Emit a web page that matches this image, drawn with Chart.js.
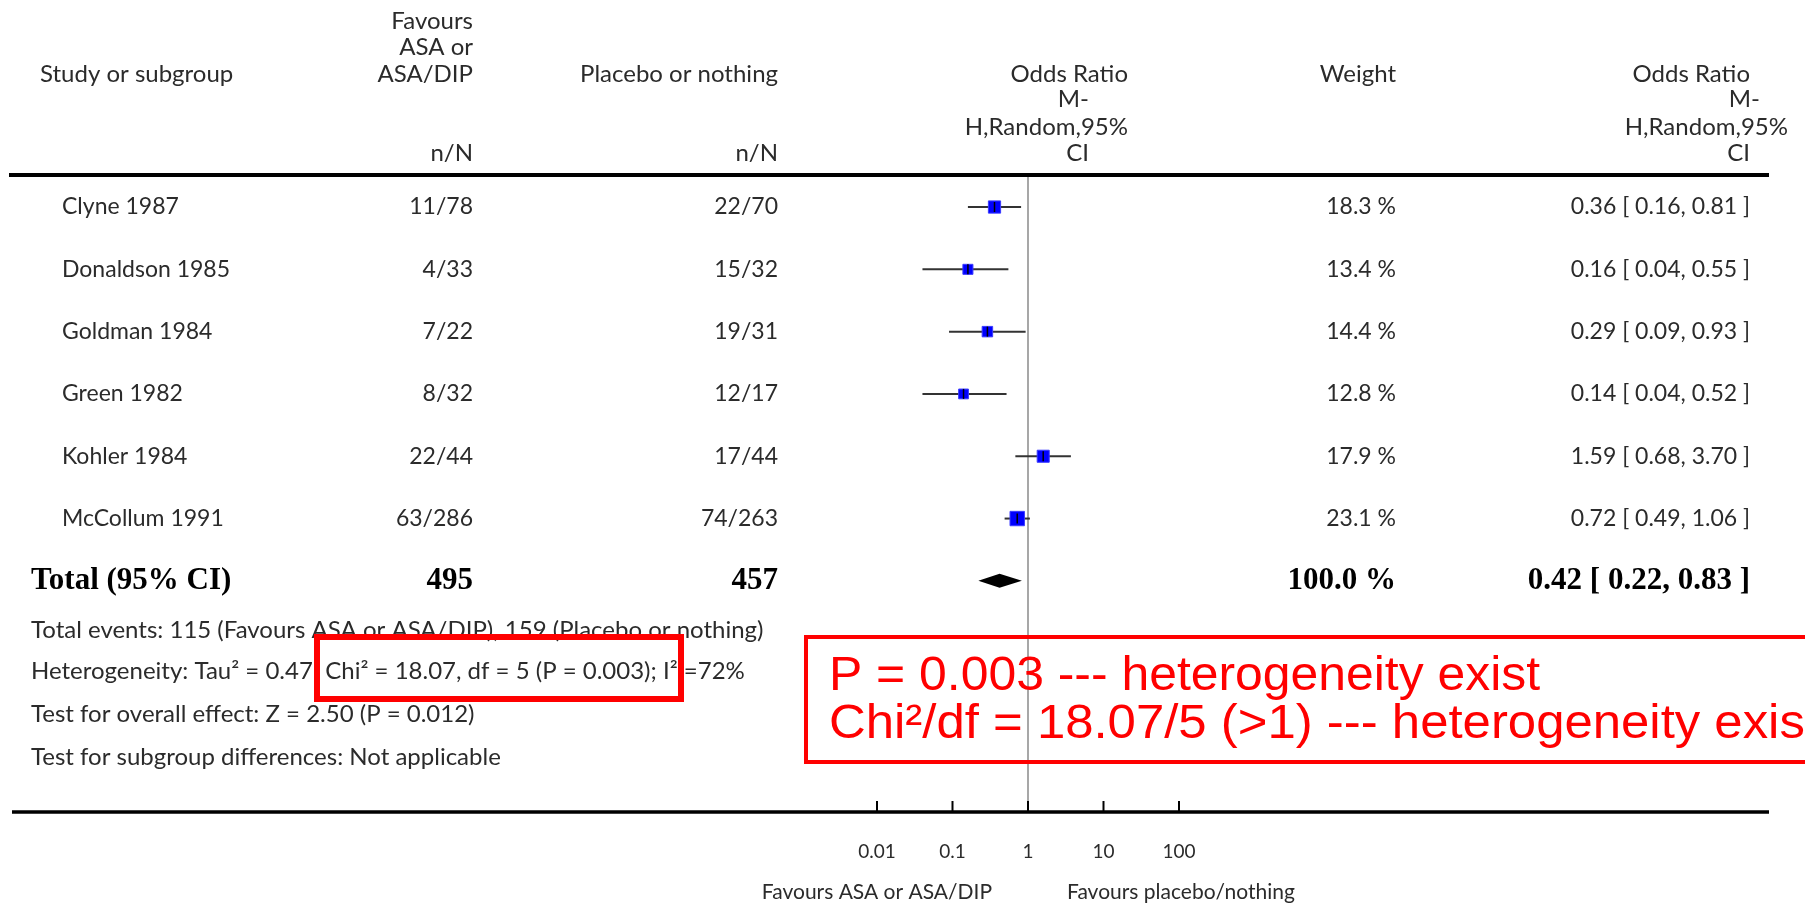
<!DOCTYPE html>
<html lang="en">
<head>
    <meta charset="UTF-8">
    <title>Forest plot</title>
    <style>
        body { margin: 0; background: #fff; }
    </style>
</head>
<body>
    <canvas id="myChart" width="1805" height="906"></canvas>

    <script src="https://cdn.jsdelivr.net/npm/chart.js"></script>

    <script>
        // data
        let studies = ['Clyne 1987', 'Donaldson 1985', 'Goldman 1984', 'Green 1982', 'Kohler 1984', 'McCollum 1991'];
        let treatN = ['11/78', '4/33', '7/22', '8/32', '22/44', '63/286'];
        let controlN = ['22/70', '15/32', '19/31', '12/17', '17/44', '74/263'];
        let weights = [18.3, 13.4, 14.4, 12.8, 17.9, 23.1];
        let oddsRatio = [0.36, 0.16, 0.29, 0.14, 1.59, 0.72];
        let ciLow = [0.16, 0.04, 0.09, 0.04, 0.68, 0.49];
        let ciHigh = [0.81, 0.55, 0.93, 0.52, 3.70, 1.06];

        let totalLabel = 'Total (95% CI)';
        let totalN = ['495', '457'];
        let totalWeight = 100.0;
        let totalOR = [0.42, 0.22, 0.83]; // estimate, low, high

        let xTicks = [0.01, 0.1, 1, 10, 100];
        let xTickLabels = ['0.01', '0.1', '1', '10', '100'];
        let favours = ['Favours ASA or ASA/DIP', 'Favours placebo/nothing'];

        let footer = [
            'Total events: 115 (Favours ASA or ASA/DIP), 159 (Placebo or nothing)',
            'Heterogeneity: Tau\u00b2 = 0.47; Chi\u00b2 = 18.07, df = 5 (P = 0.003); I\u00b2 =72%',
            'Test for overall effect: Z = 2.50 (P = 0.012)',
            'Test for subgroup differences: Not applicable'
        ];
        let notes = [
            'P = 0.003 --- heterogeneity exist',
            'Chi\u00b2/df = 18.07/5 (>1) --- heterogeneity exist'
        ];

        const SANS = 'Lato, "Open Sans", sans-serif';
        const SERIF = '"Liberation Serif", "DejaVu Serif", serif';
        const TXT = '#2b2b2b';

        function fmt(v) { return v.toFixed(2); }
        function ciText(o, l, h) { return fmt(o) + ' [ ' + fmt(l) + ', ' + fmt(h) + ' ]'; }

        function text(ctx, s, x, y, align, font, color) {
            ctx.font = font;
            ctx.textAlign = align;
            ctx.textBaseline = 'middle';
            ctx.fillStyle = color || TXT;
            ctx.fillText(s, x, y);
        }

        const forestPlugin = {
            id: 'forest',
            beforeDatasetsDraw(chart) {
                const ctx = chart.ctx;
                const xs = chart.scales.x, ys = chart.scales.y;
                const area = chart.chartArea;
                ctx.save();
                // line of no effect
                ctx.strokeStyle = '#8a8a8a';
                ctx.lineWidth = 1.5;
                ctx.beginPath();
                ctx.moveTo(xs.getPixelForValue(1), area.top);
                ctx.lineTo(xs.getPixelForValue(1), area.bottom);
                ctx.stroke();
                // confidence intervals
                ctx.strokeStyle = '#333';
                ctx.lineWidth = 2;
                for (let i = 0; i < studies.length; i++) {
                    let y = ys.getPixelForValue(i);
                    ctx.beginPath();
                    ctx.moveTo(xs.getPixelForValue(ciLow[i]), y);
                    ctx.lineTo(xs.getPixelForValue(ciHigh[i]), y);
                    ctx.stroke();
                }
                // pooled diamond
                let yt = ys.getPixelForValue(studies.length);
                ctx.fillStyle = '#000';
                ctx.beginPath();
                ctx.moveTo(xs.getPixelForValue(totalOR[1]), yt);
                ctx.lineTo(xs.getPixelForValue(totalOR[0]), yt - 7);
                ctx.lineTo(xs.getPixelForValue(totalOR[2]), yt);
                ctx.lineTo(xs.getPixelForValue(totalOR[0]), yt + 7);
                ctx.closePath();
                ctx.fill();
                ctx.restore();
            },
            afterDatasetsDraw(chart) {
                const ctx = chart.ctx;
                const xs = chart.scales.x, ys = chart.scales.y;
                ctx.save();
                ctx.strokeStyle = '#000';
                ctx.lineWidth = 1.5;
                for (let i = 0; i < studies.length; i++) {
                    let x = xs.getPixelForValue(oddsRatio[i]);
                    let y = ys.getPixelForValue(i);
                    ctx.beginPath();
                    ctx.moveTo(x, y - 5);
                    ctx.lineTo(x, y + 5);
                    ctx.stroke();
                }
                ctx.restore();
            },
            afterDraw(chart) {
                const ctx = chart.ctx;
                const xs = chart.scales.x, ys = chart.scales.y;
                const area = chart.chartArea;
                ctx.save();

                // header
                const hf = '24px ' + SANS;
                text(ctx, 'Favours', 473, 21, 'right', hf);
                text(ctx, 'ASA or', 473, 47, 'right', hf);
                text(ctx, 'ASA/DIP', 473, 74, 'right', hf);
                text(ctx, 'Study or subgroup', 40, 74, 'left', hf);
                text(ctx, 'Placebo or nothing', 778, 74, 'right', hf);
                text(ctx, 'n/N', 473, 153, 'right', hf);
                text(ctx, 'n/N', 778, 153, 'right', hf);
                text(ctx, 'Odds Ratio', 1128, 74, 'right', hf);
                text(ctx, 'M-', 1089, 99, 'right', hf);
                text(ctx, 'H,Random,95%', 1128, 127, 'right', hf);
                text(ctx, 'CI', 1089, 153, 'right', hf);
                text(ctx, 'Weight', 1396, 74, 'right', hf);
                text(ctx, 'Odds Ratio', 1750, 74, 'right', hf);
                text(ctx, 'M-', 1760, 99, 'right', hf);
                text(ctx, 'H,Random,95%', 1788, 127, 'right', hf);
                text(ctx, 'CI', 1750, 153, 'right', hf);

                // horizontal rules
                ctx.strokeStyle = '#000';
                ctx.lineWidth = 4;
                ctx.beginPath();
                ctx.moveTo(9, area.top);
                ctx.lineTo(1769, area.top);
                ctx.stroke();
                ctx.lineWidth = 3.5;
                ctx.beginPath();
                ctx.moveTo(12, area.bottom);
                ctx.lineTo(1769, area.bottom);
                ctx.stroke();
                // ticks pointing up
                ctx.lineWidth = 2;
                xTicks.forEach(v => {
                    let x = xs.getPixelForValue(v);
                    ctx.beginPath();
                    ctx.moveTo(x, area.bottom);
                    ctx.lineTo(x, area.bottom - 11);
                    ctx.stroke();
                });

                // study rows
                const rf = '23px ' + SANS;
                for (let i = 0; i < studies.length; i++) {
                    let y = ys.getPixelForValue(i);
                    text(ctx, studies[i], 62, y, 'left', rf);
                    text(ctx, treatN[i], 473, y, 'right', rf);
                    text(ctx, controlN[i], 778, y, 'right', rf);
                    text(ctx, weights[i].toFixed(1) + ' %', 1396, y, 'right', rf);
                    text(ctx, ciText(oddsRatio[i], ciLow[i], ciHigh[i]), 1750, y, 'right', rf);
                }
                // total row
                let yt = ys.getPixelForValue(studies.length);
                const bf = 'bold 31px ' + SERIF;
                text(ctx, totalLabel, 31, yt, 'left', bf, '#000');
                text(ctx, totalN[0], 473, yt, 'right', bf, '#000');
                text(ctx, totalN[1], 778, yt, 'right', bf, '#000');
                text(ctx, totalWeight.toFixed(1) + ' %', 1396, yt, 'right', bf, '#000');
                text(ctx, ciText(totalOR[0], totalOR[1], totalOR[2]), 1750, yt, 'right', bf, '#000');

                // footer statistics
                const ff = '24px ' + SANS;
                let fy = [630, 671, 714, 757];
                footer.forEach((s, i) => text(ctx, s, 31, fy[i], 'left', ff));

                // favours labels
                let p1 = xs.getPixelForValue(1);
                text(ctx, favours[0], p1 - 36, 892, 'right', '21px ' + SANS);
                text(ctx, favours[1], p1 + 39, 892, 'left', '21px ' + SANS);

                // red annotations
                ctx.strokeStyle = '#ff0000';
                ctx.lineWidth = 6;
                ctx.strokeRect(317, 637, 364, 62);
                ctx.lineWidth = 4;
                ctx.strokeRect(806, 637, 1030, 125);
                const nf = '48px "Liberation Sans", sans-serif';
                let noteWidths = [711, 990];
                let noteY = [677, 725];
                notes.forEach((s, i) => {
                    ctx.font = nf;
                    let sx = noteWidths[i] / ctx.measureText(s).width;
                    ctx.save();
                    ctx.translate(829, 0);
                    ctx.scale(sx, 1);
                    text(ctx, s, 0, noteY[i], 'left', nf, '#ff0000');
                    ctx.restore();
                });

                ctx.restore();
            }
        };

        const ctx = document.getElementById('myChart');

        let points = oddsRatio.map((v, i) => ({ x: v, y: i }));
        let sizes = weights.map(w => (4 + w * 0.45) / Math.SQRT2);

        let chart = new Chart(ctx, {
            type: 'scatter',
            data: {
                datasets: [{
                    label: 'Odds Ratio',
                    data: points,
                    pointStyle: 'rect',
                    pointRadius: sizes,
                    pointHoverRadius: sizes,
                    backgroundColor: '#0000ff',
                    borderColor: '#3a3aff',
                    borderWidth: 1,
                }]
            },
            options: {
                responsive: false,
                animation: false,
                events: [],
                layout: { padding: { left: 877, right: 626, top: 175, bottom: 0 } },
                plugins: {
                    legend: { display: false },
                    tooltip: { enabled: false },
                },
                scales: {
                    x: {
                        type: 'logarithmic',
                        min: 0.01,
                        max: 100,
                        afterBuildTicks: s => { s.ticks = xTicks.map(v => ({ value: v })); },
                        afterFit: s => { s.height = 94; },
                        grid: { display: false, drawTicks: false },
                        border: { display: false },
                        ticks: {
                            callback: (v) => xTickLabels[xTicks.indexOf(v)] ?? '',
                            padding: 28,
                            maxRotation: 0,
                            autoSkip: false,
                            color: TXT,
                            font: { family: 'Lato', size: 19 },
                        }
                    },
                    y: {
                        type: 'linear',
                        min: -0.514,
                        max: 9.71,
                        reverse: true,
                        display: false,
                    }
                }
            },
            plugins: [forestPlugin],
        });
    </script>
</body>
</html>
